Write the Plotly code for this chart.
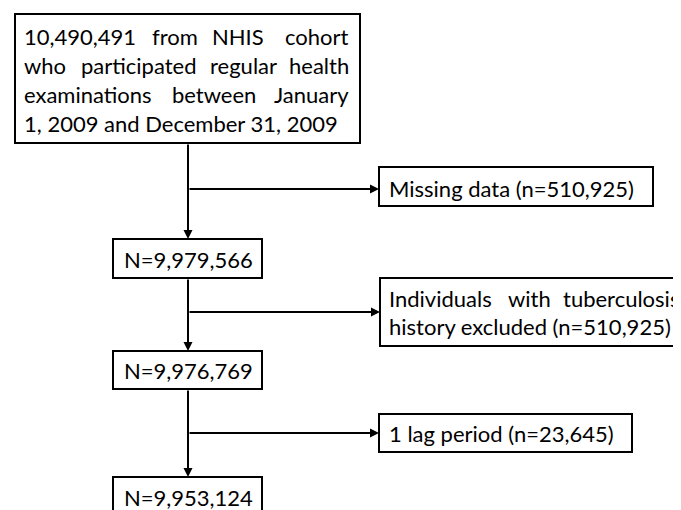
import plotly.graph_objects as go

# ---- data ----
cohort_total = 10490491
stage_counts = [9979566, 9976769, 9953124]
excluded_counts = [510925, 510925, 23645]
exclusion_reasons = ["Missing data", "Individuals with tuberculosis history excluded", "1 lag period"]
cohort_source = "NHIS"
period_text = "1, 2009 and December 31, 2009"

W, H = 681, 510
PAGE_MARGIN = 8  # default body margin of the html page
FONT = "Lato"
FS = 22
LW = 2

fig = go.Figure()
shapes = []
ann = []

def box(x0, y0, x1, y1):
    shapes.append(dict(type="rect", xref="x", yref="y", x0=x0, y0=y0, x1=x1, y1=y1,
                       line=dict(color="black", width=LW), fillcolor="white", layer="below"))

def txt(x, y, s, anchor="left"):
    ann.append(dict(x=x, y=y, xref="x", yref="y", text=s, showarrow=False,
                    xanchor=anchor, yanchor="middle", borderpad=0,
                    font=dict(family=FONT, size=FS, color="black")))

def arrow(x0, y0, x1, y1):
    ann.append(dict(x=x1, y=y1, ax=x0, ay=y0, xref="x", yref="y", axref="x", ayref="y",
                    text="", showarrow=True, arrowhead=2, arrowsize=0.9, arrowwidth=LW,
                    arrowcolor="black", standoff=0, startstandoff=0))

fmt = lambda v: f"{v:,}"

# top box with justified text
box(15, 14, 360, 143)
L, R = 23, 350
# line 1
txt(L, 36, fmt(cohort_total), "left")
txt(175, 36, "from", "center")
txt(238, 36, cohort_source, "center")
txt(R, 36, "cohort", "right")
# line 2
txt(L, 65, "who", "left")
txt(139, 65, "participated", "center")
txt(243, 65, "regular", "center")
txt(R, 65, "health", "right")
# line 3
txt(L, 94, "examinations", "left")
txt(214, 94, "between", "center")
txt(R, 94, "January", "right")
# line 4
txt(L, 123, period_text, "left")

trunk_x = 188
# stage boxes
stage_boxes = [(113, 239, 262, 278), (113, 351, 262, 389), (113, 477, 262, 530)]
stage_text_y = [259, 370, 497]
for (x0, y0, x1, y1), ty, c in zip(stage_boxes, stage_text_y, stage_counts):
    box(x0, y0, x1, y1)
    txt(trunk_x, ty, "N=" + fmt(c), "center")

# exclusion boxes
excl_boxes = [(379, 167, 653, 206), (380, 278, 720, 346), (379, 414, 632, 452)]
branch_y = [189, 312, 433]
box(*excl_boxes[0])
txt(388, 188, f"{exclusion_reasons[0]} (n={fmt(excluded_counts[0])})")
box(*excl_boxes[1])
w2 = exclusion_reasons[1].split(" ")
txt(388, 298, w2[0])
txt(507, 298, w2[1])
txt(562, 298, w2[2])
txt(388, 326, " ".join(w2[3:]) + f" (n={fmt(excluded_counts[1])})")
box(*excl_boxes[2])
txt(388, 433, f"{exclusion_reasons[2]} (n={fmt(excluded_counts[2])})")

# connectors
tops = [143, 278, 389]
for i in range(3):
    arrow(trunk_x, tops[i], trunk_x, stage_boxes[i][1])
    arrow(trunk_x, branch_y[i], excl_boxes[i][0], branch_y[i])

fig.update_layout(
    width=W - PAGE_MARGIN, height=H - PAGE_MARGIN, margin=dict(l=0, r=0, t=0, b=0),
    paper_bgcolor="white", plot_bgcolor="white",
    xaxis=dict(range=[PAGE_MARGIN, W], visible=False, fixedrange=True),
    yaxis=dict(range=[H, PAGE_MARGIN], visible=False, fixedrange=True),
    shapes=shapes, annotations=ann, showlegend=False,
)
fig.write_html("out.html")
